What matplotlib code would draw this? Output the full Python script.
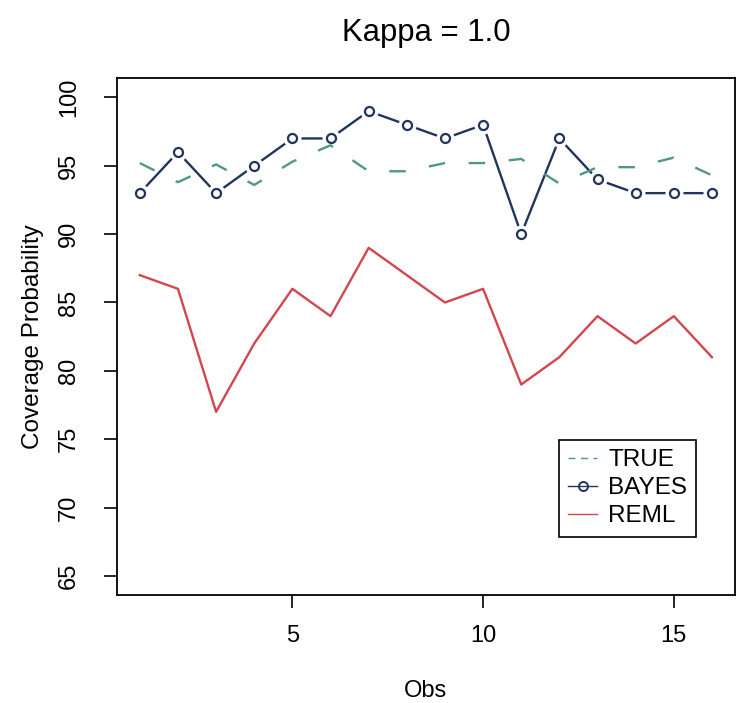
import numpy as np
import matplotlib
matplotlib.use('Agg')
import matplotlib.pyplot as plt
from matplotlib.lines import Line2D

plt.rcParams['font.family'] = ['Liberation Sans', 'DejaVu Sans']

# Coverage probabilities
obs = list(range(1, 17))
true_vals = [95.2, 93.8, 95.1, 93.6, 95.3, 96.5, 94.6, 94.6, 95.2, 95.2, 95.5, 93.7, 94.9, 94.9, 95.6, 94.3]
bayes_vals = [93, 96, 93, 95, 97, 97, 99, 98, 97, 98, 90, 97, 94, 93, 93, 93]
reml_vals = [87, 86, 77, 82, 86, 84, 89, 87, 85, 86, 79, 81, 84, 82, 84, 81]
yticks = [65, 70, 75, 80, 85, 90, 95, 100]
xticks = [5, 10, 15]

c_true = '#4f9a78'
c_bayes = '#22335e'
c_reml = '#d2464f'

fig = plt.figure(figsize=(7.4, 7.03), dpi=100)
ax = fig.add_axes([0.158, 0.1536, 0.835, 0.735])

# BAYES drawn R "type=b" style: line with gaps around the points
ax.plot(obs, bayes_vals, color=c_bayes, lw=1.7, zorder=2)
ax.plot(obs, bayes_vals, 'o', ms=12, mfc='white', mec='white', zorder=3)
ax.plot(obs, true_vals, color=c_true, lw=1.7, dashes=(7, 10), zorder=4)
ax.plot(obs, bayes_vals, 'o', ms=6.5, mfc='none', mec=c_bayes, mew=1.6, zorder=5)
ax.plot(obs, reml_vals, color=c_reml, lw=1.7, zorder=4)

ax.set_xlim(0.4, 16.6)
ax.set_ylim(63.6, 101.4)
ax.set_xticks(xticks)
ax.set_yticks(yticks)
ax.tick_params(axis='both', direction='out', length=9.5, width=1.2, labelsize=17)
ax.tick_params(axis='x', pad=12)
ax.tick_params(axis='y', pad=17)
for lab in ax.get_yticklabels():
    lab.set_rotation(90)
    lab.set_va('center')
for s in ax.spines.values():
    s.set_linewidth(1.3)

ax.set_title('Kappa = 1.0', fontsize=22.4, pad=27)
ax.set_xlabel('Obs', fontsize=17, labelpad=24)
ax.set_ylabel('Coverage Probability', fontsize=17.5, labelpad=10)

handles = [
    Line2D([], [], color=c_true, lw=1.0, dashes=(5, 4)),
    Line2D([], [], color=c_bayes, lw=1.0, marker='o', ms=6.5, mfc='none', mew=1.4),
    Line2D([], [], color=c_reml, lw=1.0),
]
leg = ax.legend(handles, ['TRUE', 'BAYES', 'REML'], loc='upper left',
                bbox_to_anchor=(0.715, 0.300), borderaxespad=0, fontsize=17.5,
                frameon=True, fancybox=False, edgecolor='black', framealpha=1,
                handlelength=1.2, handletextpad=0.45, labelspacing=0.25,
                borderpad=0.38)
leg.get_frame().set_linewidth(1.2)

plt.savefig('out.png', dpi=100)
